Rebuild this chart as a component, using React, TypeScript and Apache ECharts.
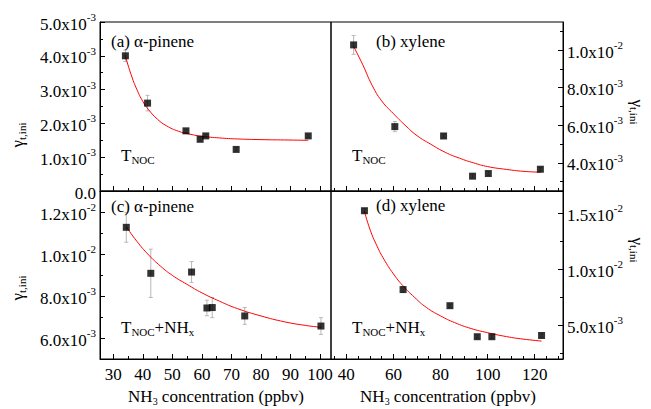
import React, { useEffect, useRef } from "react";
import * as echarts from "echarts";

const SERIF = "Liberation Serif";

// ---- Panel (a) alpha-pinene, T_NOC ----
const aX = [34.1, 41.6, 54.6, 59.4, 61.3, 71.6, 96.0];
const aY = [4.0e-3, 2.6e-3, 1.78e-3, 1.53e-3, 1.63e-3, 1.23e-3, 1.63e-3];
const aErr = [0.17e-3, 0.23e-3, 0.05e-3, 0.05e-3, 0.05e-3, 0.05e-3, 0.05e-3];
const aFitX = [34, 36, 38, 40, 42, 45, 48, 52, 56, 60, 66, 72, 80, 88, 96];
const aFitY = [4.02e-3, 3.45e-3, 3.0e-3, 2.65e-3, 2.4e-3, 2.12e-3, 1.93e-3, 1.77e-3, 1.68e-3, 1.62e-3, 1.57e-3, 1.54e-3, 1.52e-3, 1.51e-3, 1.5e-3];

// ---- Panel (b) xylene, T_NOC ----
const bX = [43.1, 60.6, 81.3, 93.6, 100.3, 122.4];
const bY = [10.28e-3, 5.93e-3, 5.43e-3, 3.29e-3, 3.43e-3, 3.66e-3];
const bErr = [0.5e-3, 0.27e-3, 0.1e-3, 0.1e-3, 0.1e-3, 0.1e-3];
const bFitX = [43.1, 47, 51, 55, 60, 65, 70, 76, 82, 88, 94, 100, 108, 115, 122.4];
const bFitY = [10.2e-3, 9.22e-3, 8.12e-3, 7.3e-3, 6.62e-3, 6.0e-3, 5.45e-3, 4.98e-3, 4.56e-3, 4.25e-3, 4.0e-3, 3.8e-3, 3.65e-3, 3.55e-3, 3.5e-3];

// ---- Panel (c) alpha-pinene, T_NOC+NH_x ----
const cX = [34.4, 42.7, 56.5, 61.7, 63.5, 74.5, 100.3];
const cY = [11.27e-3, 9.08e-3, 9.14e-3, 7.43e-3, 7.45e-3, 7.05e-3, 6.57e-3];
const cErr = [0.71e-3, 1.15e-3, 0.5e-3, 0.37e-3, 0.48e-3, 0.4e-3, 0.4e-3];
const cFitX = [34.4, 38, 42, 46, 50, 55, 60, 66, 72, 80, 88, 95, 100.3];
const cFitY = [11.3e-3, 10.6e-3, 9.95e-3, 9.42e-3, 8.98e-3, 8.55e-3, 8.15e-3, 7.75e-3, 7.4e-3, 7.05e-3, 6.77e-3, 6.6e-3, 6.51e-3];

// ---- Panel (d) xylene, T_NOC+NH_x ----
const dX = [47.7, 64.1, 84.0, 95.6, 101.8, 122.9];
const dY = [15.24e-3, 8.2e-3, 6.76e-3, 3.99e-3, 3.99e-3, 4.1e-3];
const dErr = [0.2e-3, 0.25e-3, 0.15e-3, 0.15e-3, 0.15e-3, 0.15e-3];
const dFitX = [47.7, 50, 53, 56, 60, 64, 69, 74, 80, 86, 93, 100, 108, 115, 122.9];
const dFitY = [15.2e-3, 13.6e-3, 12.1e-3, 10.9e-3, 9.6e-3, 8.55e-3, 7.5e-3, 6.6e-3, 5.85e-3, 5.25e-3, 4.72e-3, 4.35e-3, 4.0e-3, 3.78e-3, 3.6e-3];

// ---- Axes: ranges, ticks, tick labels ----
const leftXRange = [25.5, 103.7];
const leftXTicks = [30, 40, 50, 60, 70, 80, 90, 100];
const leftXMinor = [35, 45, 55, 65, 75, 85, 95];
const leftXLabels = ["30", "40", "50", "60", "70", "80", "90", "100"];

const rightXRange = [33.5, 132];
const rightXTicks = [40, 60, 80, 100, 120];
const rightXMinor = [35, 45, 50, 55, 65, 70, 75, 85, 90, 95, 105, 110, 115, 125, 130];
const rightXLabels = ["40", "60", "80", "100", "120"];

const aYRange = [0, 5e-3];
const aYTicks = [0, 1e-3, 2e-3, 3e-3, 4e-3, 5e-3];
const aYMinor = [0.5e-3, 1.5e-3, 2.5e-3, 3.5e-3, 4.5e-3];
const aYLabels = ["0.0", "1.0x10^-3", "2.0x10^-3", "3.0x10^-3", "4.0x10^-3", "5.0x10^-3"];

const bYRange = [2.5e-3, 11.5e-3];
const bYTicks = [4e-3, 6e-3, 8e-3, 10e-3];
const bYMinor = [3e-3, 5e-3, 7e-3, 9e-3, 11e-3];
const bYLabels = ["4.0x10^-3", "6.0x10^-3", "8.0x10^-3", "1.0x10^-2"];

const cYRange = [5e-3, 13e-3];
const cYTicks = [6e-3, 8e-3, 10e-3, 12e-3];
const cYMinor = [7e-3, 9e-3, 11e-3];
const cYLabels = ["6.0x10^-3", "8.0x10^-3", "1.0x10^-2", "1.2x10^-2"];

const dYRange = [2e-3, 17e-3];
const dYTicks = [5e-3, 10e-3, 15e-3];
const dYMinor = [2.5e-3, 7.5e-3, 12.5e-3];
const dYLabels = ["5.0x10^-3", "1.0x10^-2", "1.5x10^-2"];

const tickRich = {
  m: { fontSize: 17, fontFamily: SERIF, color: "#000", lineHeight: 21, verticalAlign: "bottom" },
  s: { fontSize: 11, fontFamily: SERIF, color: "#000", lineHeight: 11, verticalAlign: "top" },
};

function labelFormatter(vals: number[], labels: string[]) {
  return (v: number) => {
    let idx = 0;
    let best = Infinity;
    vals.forEach((t, i) => {
      const d = Math.abs(t - v);
      if (d < best) {
        best = d;
        idx = i;
      }
    });
    const parts = labels[idx].split("^");
    return parts[1] ? `{m|${parts[0]}}{s|${parts[1]}}` : `{m|${parts[0]}}`;
  };
}

function makeXAxes(gridIndex: number, range: number[], majors: number[], minors: number[], labels: string[] | null) {
  return [
    {
      type: "value",
      gridIndex,
      min: range[0],
      max: range[1],
      position: "bottom",
      axisLine: { show: true, onZero: false, lineStyle: { color: "#000", width: 1 } },
      axisTick: { show: true, inside: true, length: 5, customValues: majors, lineStyle: { color: "#000", width: 1 } },
      axisLabel: labels
        ? {
            show: true,
            customValues: majors,
            margin: 3,
            fontFamily: SERIF,
            fontSize: 17,
            color: "#000",
            formatter: labelFormatter(majors, labels),
            rich: tickRich,
          }
        : { show: false },
      splitLine: { show: false },
    },
    {
      type: "value",
      gridIndex,
      min: range[0],
      max: range[1],
      position: "bottom",
      axisLine: { show: false, onZero: false },
      axisTick: { show: true, inside: true, length: 3, customValues: minors, lineStyle: { color: "#000", width: 1 } },
      axisLabel: { show: false },
      splitLine: { show: false },
    },
  ];
}

function makeYAxes(gridIndex: number, position: string, range: number[], majors: number[], minors: number[], labels: string[]) {
  return [
    {
      type: "value",
      gridIndex,
      min: range[0],
      max: range[1],
      position,
      axisLine: { show: true, onZero: false, lineStyle: { color: "#000", width: 1 } },
      axisTick: { show: true, inside: true, length: 5, customValues: majors, lineStyle: { color: "#000", width: 1 } },
      axisLabel: {
        show: true,
        customValues: majors,
        margin: 4,
        fontFamily: SERIF,
        fontSize: 17,
        color: "#000",
        formatter: labelFormatter(majors, labels),
        rich: tickRich,
      },
      splitLine: { show: false },
    },
    {
      type: "value",
      gridIndex,
      min: range[0],
      max: range[1],
      position,
      axisLine: { show: false, onZero: false },
      axisTick: { show: true, inside: true, length: 3, customValues: minors, lineStyle: { color: "#000", width: 1 } },
      axisLabel: { show: false },
      splitLine: { show: false },
    },
  ];
}

function panelSeries(i: number, xs: number[], ys: number[], errs: number[], fx: number[], fy: number[]) {
  const ax = i * 2;
  return [
    {
      type: "custom",
      xAxisIndex: ax,
      yAxisIndex: ax,
      z: 1,
      data: xs.map((x, k) => [x, ys[k] - errs[k], ys[k] + errs[k]]),
      encode: { x: 0, y: [1, 2] },
      renderItem: (params: any, api: any) => {
        const x = api.value(0);
        const p1 = api.coord([x, api.value(1)]);
        const p2 = api.coord([x, api.value(2)]);
        const w = 2;
        const st = { stroke: "#b8b8b8", lineWidth: 1 };
        return {
          type: "group",
          children: [
            { type: "line", shape: { x1: p1[0], y1: p1[1], x2: p2[0], y2: p2[1] }, style: st },
            { type: "line", shape: { x1: p1[0] - w, y1: p1[1], x2: p1[0] + w, y2: p1[1] }, style: st },
            { type: "line", shape: { x1: p2[0] - w, y1: p2[1], x2: p2[0] + w, y2: p2[1] }, style: st },
          ],
        };
      },
    },
    {
      type: "line",
      xAxisIndex: ax,
      yAxisIndex: ax,
      z: 2,
      data: fx.map((x, k) => [x, fy[k]]),
      smooth: 0.5,
      showSymbol: false,
      lineStyle: { color: "#ff0000", width: 1 },
    },
    {
      type: "scatter",
      xAxisIndex: ax,
      yAxisIndex: ax,
      z: 3,
      data: xs.map((x, k) => [x, ys[k]]),
      symbol: "rect",
      symbolSize: 7,
      itemStyle: { color: "#000" },
    },
  ];
}

const mainStyle = { fontSize: 17, fontFamily: SERIF, color: "#000", lineHeight: 18, verticalAlign: "top" };
const subLow = { fontSize: 11, fontFamily: SERIF, color: "#000", lineHeight: 11, padding: [15, 0, 0, 0], verticalAlign: "bottom" };
const subMid = { fontSize: 11, fontFamily: SERIF, color: "#000", lineHeight: 11, padding: [10, 0, 0, 0], verticalAlign: "bottom" };
const subNH = { fontSize: 10, fontFamily: SERIF, color: "#000", lineHeight: 10, padding: [9, 0, 0, 0], verticalAlign: "bottom" };

function richText(x: number, y: number, text: string, align = "left", vAlign = "top", rotation = 0) {
  return {
    type: "text",
    x,
    y,
    rotation,
    z: 10,
    style: {
      text,
      align,
      verticalAlign: vAlign,
      textAlign: align,
      textVerticalAlign: vAlign,
      fill: "#000",
      font: "17px " + SERIF,
      fontSize: 17,
      fontFamily: SERIF,
      rich: { m: mainStyle, s: subLow, t: subMid, x: subNH },
    },
  };
}

export default function App() {
  const ref = useRef<HTMLDivElement>(null);
  useEffect(() => {
    if (!ref.current) return;
    const chart = echarts.init(ref.current, null, { renderer: "svg" });
    const grids = [
      { left: 100, top: 22, width: 231, height: 169 },
      { left: 331, top: 22, width: 232, height: 169 },
      { left: 100, top: 191, width: 231, height: 168 },
      { left: 331, top: 191, width: 232, height: 168 },
    ].map((g) => ({ ...g, show: true, borderColor: "#000", borderWidth: 1, backgroundColor: "transparent" }));

    const option: any = {
      animation: false,
      backgroundColor: "#fff",
      textStyle: { fontFamily: SERIF },
      grid: grids,
      xAxis: [
        ...makeXAxes(0, leftXRange, leftXTicks, leftXMinor, null),
        ...makeXAxes(1, rightXRange, rightXTicks, rightXMinor, null),
        ...makeXAxes(2, leftXRange, leftXTicks, leftXMinor, leftXLabels),
        ...makeXAxes(3, rightXRange, rightXTicks, rightXMinor, rightXLabels),
      ],
      yAxis: [
        ...makeYAxes(0, "left", aYRange, aYTicks, aYMinor, aYLabels),
        ...makeYAxes(1, "right", bYRange, bYTicks, bYMinor, bYLabels),
        ...makeYAxes(2, "left", cYRange, cYTicks, cYMinor, cYLabels),
        ...makeYAxes(3, "right", dYRange, dYTicks, dYMinor, dYLabels),
      ],
      series: [
        ...panelSeries(0, aX, aY, aErr, aFitX, aFitY),
        ...panelSeries(1, bX, bY, bErr, bFitX, bFitY),
        ...panelSeries(2, cX, cY, cErr, cFitX, cFitY),
        ...panelSeries(3, dX, dY, dErr, dFitX, dFitY),
      ],
      graphic: [
        richText(111, 33, "{m|(a) α-pinene}"),
        richText(376, 33, "{m|(b) xylene}"),
        richText(111, 198, "{m|(c) α-pinene}"),
        richText(376, 197, "{m|(d) xylene}"),
        richText(121, 147, "{m|T}{s|NOC}"),
        richText(352, 147, "{m|T}{s|NOC}"),
        richText(121, 319, "{m|T}{s|NOC}{m|+NH}{s|x}"),
        richText(352, 319, "{m|T}{s|NOC}{m|+NH}{s|x}"),
        richText(18, 135, "{m|γ}{t|t,ini}", "center", "middle", Math.PI / 2),
        richText(18, 288, "{m|γ}{t|t,ini}", "center", "middle", Math.PI / 2),
        richText(637, 112, "{m|γ}{t|t,ini}", "center", "middle", -Math.PI / 2),
        richText(637, 250, "{m|γ}{t|t,ini}", "center", "middle", -Math.PI / 2),
        richText(216, 397, "{m|NH}{x|3}{m| concentration (ppbv)}", "center", "middle"),
        richText(448, 397, "{m|NH}{x|3}{m| concentration (ppbv)}", "center", "middle"),
      ],
    };
    chart.setOption(option);
    return () => chart.dispose();
  }, []);
  return (
    <div
      ref={ref}
      style={{ position: "fixed", left: 0, top: 0, width: 651, height: 409, background: "#fff" }}
    />
  );
}
